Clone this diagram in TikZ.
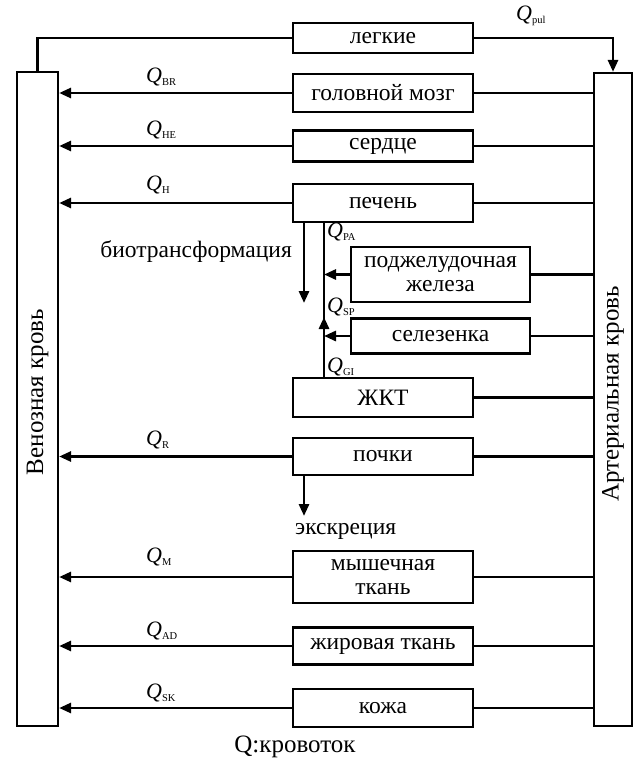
\documentclass[tikz,border=0pt]{standalone}
\usepackage{fontspec}
\setmainfont{Liberation Serif}
\usetikzlibrary{arrows.meta}
\newcommand\qlab[1]{{\itshape Q}\raisebox{-0.35ex}{\fontsize{10.5}{10.5}\selectfont #1}}
\begin{document}
\begin{tikzpicture}[x=1pt,y=-1pt,
  organ/.style={draw, line width=2.4pt, minimum width=180pt, inner sep=0pt, font=\fontsize{23.5}{24}\selectfont, align=center},
  column/.style={draw, line width=2.2pt, inner sep=0pt, minimum width=41pt, minimum height=654pt},
  coltext/.style={rotate=90, font=\fontsize{25}{26}\selectfont},
  conn/.style={line width=2.8pt},
  flow/.style={line width=2.8pt, -{Triangle[length=12pt,width=10pt]}},
  qtext/.style={anchor=south west, inner sep=0pt, font=\fontsize{22}{23}\selectfont},
  plain/.style={inner sep=0pt, font=\fontsize{23.5}{24}\selectfont}]
\useasboundingbox (0,0) rectangle (636,765);
% columns
\node[column] (ven) at (37.5,399) {};
\node[column, minimum width=38pt, minimum height=653pt] (art) at (613,399.5) {};
\node[coltext] (ventext) at (37.5,392) {Венозная кровь};
\node[coltext] (arttext) at (613,394) {Артериальная кровь};
% organs
\node[organ, minimum height=30pt] (lung) at (383,38) {легкие};
\node[organ, minimum height=38pt] (brain) at (383,93) {головной мозг};
\node[organ, minimum height=31pt] (heart) at (383,146) {сердце};
\node[organ, minimum height=38pt] (liver) at (383,203) {печень};
\node[organ, minimum width=179pt, minimum height=55pt] (pan) at (440.5,274.5) {поджелудочная\\железа};
\node[organ, minimum width=179pt, minimum height=35pt] (spl) at (440.5,336) {селезенка};
\node[organ, minimum height=39pt] (gi) at (383,397.5) {ЖКТ};
\node[organ, minimum height=37pt] (kid) at (383,456.5) {почки};
\node[organ, minimum height=52pt] (mus) at (383,577) {мышечная\\ткань};
\node[organ, minimum height=37pt] (fat) at (383,646) {жировая ткань};
\node[organ, minimum height=38pt] (skin) at (383,708) {кожа};
% lungs loop
\draw[conn] (ven.north) |- (lung.west);
\draw[flow] (lung.east) -| (art.north);
% organ rows
\foreach \o in {brain,heart,liver,kid,mus,fat,skin}{
  \draw[flow] (\o.west) -- (\o.west -| ven.east);
  \draw[conn] (art.west |- \o.east) -- (\o.east);
}
\draw[conn] (art.west |- gi.east) -- (gi.east);
\draw[conn] (art.west |- pan.east) -- (pan.east);
\draw[conn] (art.west |- spl.east) -- (spl.east);
% portal system
\coordinate (px) at (324,0);
\coordinate (upa) at (324,331);
\coordinate (upb) at (324,317);
\draw[conn] (gi.north -| px) -- (liver.south -| px);
\draw[flow] (pan.west) -- (pan.west -| px);
\draw[flow] (spl.west) -- (spl.west -| px);
\draw[flow] (upa) -- (upb);
% biotransformation and excretion
\coordinate (bx) at (304,0);
\coordinate (btip) at (304,303);
\draw[flow] (liver.south -| bx) -- (btip);
\node[plain, anchor=east] (bio) at (292,252) {биотрансформация};
\coordinate (etip) at (304,516);
\draw[flow] (kid.south -| bx) -- (etip);
\node[plain, anchor=west] (exc) at (295,531) {экскреция};
% flow labels
\node[qtext] (qpul) at (516,26) {\qlab{pul}};
\node[qtext] (qbr) at (146,86) {\qlab{BR}};
\node[qtext] (qhe) at (146,139) {\qlab{HE}};
\node[qtext] (qh) at (146,194) {\qlab{H}};
\node[qtext] (qr) at (146,449) {\qlab{R}};
\node[qtext] (qm) at (146,566) {\qlab{M}};
\node[qtext] (qad) at (146,640) {\qlab{AD}};
\node[qtext] (qsk) at (146,702) {\qlab{SK}};
\node[qtext] (qpa) at (327,241) {\qlab{PA}};
\node[qtext] (qsp) at (327,316) {\qlab{SP}};
\node[qtext] (qgi) at (327,376) {\qlab{GI}};
\node[plain, font=\fontsize{25}{26}\selectfont] (legend) at (295,747) {Q:кровоток};
\end{tikzpicture}
\end{document}
